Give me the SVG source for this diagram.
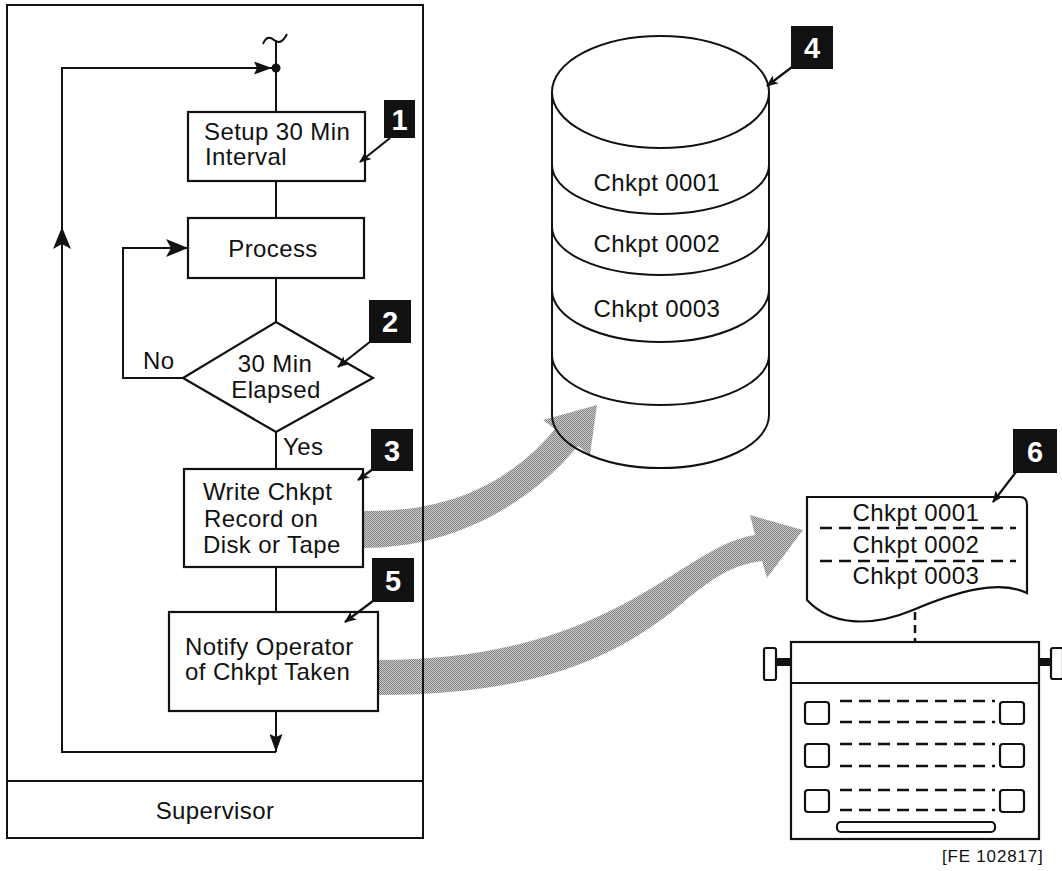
<svg xmlns="http://www.w3.org/2000/svg" width="1062" height="871" viewBox="0 0 1062 871">
  <style>
    .ln { fill: none; stroke: #111; stroke-width: 2; }
    .box { fill: #fff; stroke: #111; stroke-width: 2.2; }
    .txt { font-family: "Liberation Sans", Arial, sans-serif; font-size: 24px; fill: #111; letter-spacing: 0.4px; }
    .mid { text-anchor: middle; }
    .badge rect { fill: #111; }
    .badge text { font-family: "Liberation Sans", Arial, sans-serif; font-size: 29px; font-weight: bold; fill: #fff; text-anchor: middle; }
    .ptr { fill: none; stroke: #111; stroke-width: 2.2; marker-end: url(#tip); }
    .dash { fill: none; stroke: #111; stroke-width: 2.4; stroke-dasharray: 12 7; }
    .flow { fill: url(#stipple); }
  </style>
  <defs>
    <pattern id="stipple" width="2" height="2" patternUnits="userSpaceOnUse">
      <rect width="2" height="2" fill="#cdcdcd"/>
      <rect width="1" height="1" fill="#808080"/>
      <rect x="1" y="1" width="1" height="1" fill="#808080"/>
    </pattern>
    <marker id="big" viewBox="0 0 22 18" refX="22" refY="9" markerWidth="22" markerHeight="18" markerUnits="userSpaceOnUse" orient="auto">
      <path d="M0,0 L22,9 L0,18 L5,9 Z" fill="#111"/>
    </marker>
    <marker id="small" viewBox="0 0 18 13" refX="18" refY="6.5" markerWidth="18" markerHeight="13" markerUnits="userSpaceOnUse" orient="auto">
      <path d="M0,0 L18,6.5 L0,13 L3,6.5 Z" fill="#111"/>
    </marker>
    <marker id="tip" viewBox="0 0 12 10" refX="11" refY="5" markerWidth="12" markerHeight="10" markerUnits="userSpaceOnUse" orient="auto">
      <path d="M0,0 L12,5 L0,10 L3,5 Z" fill="#111"/>
    </marker>
  </defs>

  <!-- wide shaded flow arrows -->
  <g id="flows">
    <path class="flow" d="M364,511 C430,512 500,495 555,429 L543,420 L597,405 L590,455 L578,446 C520,515 440,548 364,548 Z"/>
    <path class="flow" d="M379,660 C520,660 600,620 660,583 C700,558 725,540 755,535 L750,515 L803,530 L767,578 L762,561 C730,565 710,580 680,605 C620,655 540,695 379,695 Z"/>
  </g>

  <!-- supervisor frame -->
  <g id="frame">
    <rect class="ln" x="7" y="5" width="416" height="833"/>
    <line class="ln" x1="7" y1="781" x2="423" y2="781"/>
    <text class="txt mid" x="215" y="819">Supervisor</text>
  </g>

  <!-- flow connectors -->
  <g id="connectors">
    <path class="ln" d="M263,44 Q267,34 274,40 T287,34"/>
    <line class="ln" x1="276" y1="40" x2="276" y2="112"/>
    <circle cx="276" cy="68" r="4.5" fill="#111"/>
    <line class="ln" x1="276" y1="181" x2="276" y2="218"/>
    <line class="ln" x1="276" y1="278" x2="276" y2="322"/>
    <line class="ln" x1="276" y1="432" x2="276" y2="469"/>
    <line class="ln" x1="276" y1="567" x2="276" y2="612"/>
    <path class="ln" d="M276,711 L276,752" marker-end="url(#small)"/>
    <path class="ln" d="M276,752 L62,752 L62,227" marker-end="url(#big)"/>
    <path class="ln" d="M62,230 L62,68 L272,68" marker-end="url(#small)"/>
    <path class="ln" d="M183,378 L123,378 L123,248 L188,248" marker-end="url(#big)"/>
    <line x1="915" y1="612" x2="915" y2="642" stroke="#111" stroke-width="2.5" stroke-dasharray="8 5"/>
  </g>

  <g id="setup">
    <rect class="box" x="188" y="112" width="177" height="69"/>
    <text class="txt" x="204" y="140">Setup 30 Min</text>
    <text class="txt" x="205" y="165">Interval</text>
  </g>

  <g id="process">
    <rect class="box" x="188" y="218" width="176" height="60"/>
    <text class="txt mid" x="273" y="257">Process</text>
  </g>

  <g id="elapsed">
    <polygon class="box" points="276,322 373,378 276,432 183,378"/>
    <text class="txt mid" x="275" y="372">30 Min</text>
    <text class="txt mid" x="276" y="398">Elapsed</text>
    <text class="txt" x="143" y="369">No</text>
    <text class="txt" x="283" y="455">Yes</text>
  </g>

  <g id="write">
    <rect class="box" x="184" y="469" width="179" height="98"/>
    <text class="txt" x="203" y="500">Write Chkpt</text>
    <text class="txt" x="204" y="527">Record on</text>
    <text class="txt" x="203" y="553">Disk or Tape</text>
  </g>

  <g id="notify">
    <rect class="box" x="169" y="612" width="209" height="99"/>
    <text class="txt" x="185" y="655">Notify Operator</text>
    <text class="txt" x="185" y="680">of Chkpt Taken</text>
  </g>

  <!-- disk store -->
  <g id="disk">
    <path class="ln" d="M552,92 L552,415 A108.5,53 0 0 0 769,415 L769,92"/>
    <ellipse class="ln" cx="660.5" cy="92" rx="108.5" ry="56"/>
    <path class="ln" d="M552,165 A108.5,49 0 0 0 769,165"/>
    <path class="ln" d="M552,227 A108.5,48 0 0 0 769,227"/>
    <path class="ln" d="M552,290 A108.5,52 0 0 0 769,290"/>
    <path class="ln" d="M552,355 A108.5,50 0 0 0 769,355"/>
    <text class="txt mid" x="657" y="191">Chkpt 0001</text>
    <text class="txt mid" x="657" y="252">Chkpt 0002</text>
    <text class="txt mid" x="657" y="317">Chkpt 0003</text>
  </g>

  <!-- printed log sheet -->
  <g id="sheet">
    <path class="box" d="M807,497 L1020,497 Q1027,497 1027,505 L1027,593 C1000,580 960,590 913,610 C870,628 830,625 807,600 Z"/>
    <line class="dash" x1="820" y1="528" x2="1016" y2="528"/>
    <line class="dash" x1="820" y1="561" x2="1016" y2="561"/>
    <text class="txt mid" x="916" y="521">Chkpt 0001</text>
    <text class="txt mid" x="916" y="553">Chkpt 0002</text>
    <text class="txt mid" x="916" y="584">Chkpt 0003</text>
  </g>

  <!-- console typewriter -->
  <g id="typewriter">
    <rect class="box" x="791" y="642" width="248" height="197"/>
    <line class="ln" x1="791" y1="683" x2="1039" y2="683"/>
    <rect class="box" x="764" y="648" width="12" height="32" rx="2"/>
    <rect x="776" y="658" width="15" height="8" fill="#111"/>
    <rect class="box" x="1051" y="648" width="12" height="31" rx="2"/>
    <rect x="1039" y="658" width="12" height="8" fill="#111"/>
    <rect class="box" x="805" y="702" width="24" height="22" rx="3"/>
    <rect class="box" x="805" y="744" width="24" height="23" rx="3"/>
    <rect class="box" x="805" y="790" width="24" height="22" rx="3"/>
    <rect class="box" x="1000" y="702" width="24" height="22" rx="3"/>
    <rect class="box" x="1000" y="744" width="24" height="23" rx="3"/>
    <rect class="box" x="1000" y="790" width="24" height="22" rx="3"/>
    <line class="dash" x1="840" y1="701" x2="995" y2="701"/>
    <line class="dash" x1="840" y1="722" x2="995" y2="722"/>
    <line class="dash" x1="840" y1="744" x2="995" y2="744"/>
    <line class="dash" x1="840" y1="766" x2="995" y2="766"/>
    <line class="dash" x1="840" y1="790" x2="995" y2="790"/>
    <line class="dash" x1="840" y1="810" x2="995" y2="810"/>
    <rect class="box" x="837" y="822" width="158" height="10" rx="4"/>
  </g>

  <text x="942" y="862" font-family="Liberation Sans, Arial, sans-serif" font-size="17" letter-spacing="0.8" fill="#111">[FE 102817]</text>

  <!-- numbered callouts -->
  <g id="badge1" class="badge">
    <rect x="384" y="100" width="31" height="38"/>
    <text x="399.5" y="130">1</text>
    <path class="ptr" d="M390,138 L360,162"/>
  </g>
  <g id="badge2" class="badge">
    <rect x="369" y="300" width="42" height="43"/>
    <text x="390" y="332">2</text>
    <path class="ptr" d="M371,341 L338,367"/>
  </g>
  <g id="badge3" class="badge">
    <rect x="371" y="429" width="42" height="42"/>
    <text x="392" y="461">3</text>
    <path class="ptr" d="M373,469 L358,480"/>
  </g>
  <g id="badge4" class="badge">
    <rect x="791" y="26" width="42" height="43"/>
    <text x="812" y="58">4</text>
    <path class="ptr" d="M792,67 L767,86"/>
  </g>
  <g id="badge5" class="badge">
    <rect x="372" y="558" width="42" height="44"/>
    <text x="393" y="591">5</text>
    <path class="ptr" d="M373,601 L345,622"/>
  </g>
  <g id="badge6" class="badge">
    <rect x="1013" y="429" width="44" height="44"/>
    <text x="1035" y="462">6</text>
    <path class="ptr" d="M1016,472 L993,502"/>
  </g>
</svg>
